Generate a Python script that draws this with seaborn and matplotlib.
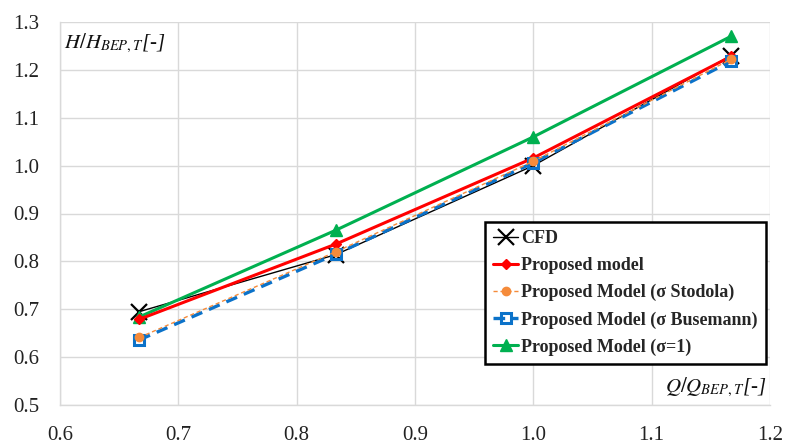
import matplotlib
matplotlib.use("Agg")
import matplotlib.pyplot as plt
import seaborn as sns
import pandas as pd

q = [0.667, 0.833, 1.0, 1.167]
cfd = [0.695, 0.814, 1.000, 1.230]
proposed = [0.679, 0.836, 1.016, 1.228]
stodola = [0.641, 0.820, 1.009, 1.222]
busemann = [0.636, 0.815, 1.006, 1.218]
sigma1 = [0.684, 0.865, 1.060, 1.270]

names = ["CFD", "Proposed model", "Proposed Model (σ Stodola)",
         "Proposed Model (σ Busemann)", "Proposed Model (σ=1)"]
series = [cfd, proposed, stodola, busemann, sigma1]

rows = []
for n, vals in zip(names, series):
    for x, y in zip(q, vals):
        rows.append({"Q": x, "H": y, "series": n})
df = pd.DataFrame(rows)

sns.set_theme(style="whitegrid")
plt.rcParams["font.family"] = ["Liberation Serif", "DejaVu Serif"]
plt.rcParams["mathtext.fontset"] = "stix"

fig = plt.figure(figsize=(7.85, 4.45), dpi=100)
ax = fig.add_axes([60 / 785, 1 - 405 / 445, 710 / 785, 383 / 445])

styles = {
    "CFD": dict(color="black", lw=1.0, ls="-", marker="x", ms=11, mew=1.6, mfc="black", zorder=3),
    "Proposed model": dict(color="#ff0000", lw=2.2, ls="-", marker="D", ms=5, mew=1, mfc="#ff0000", zorder=4),
    "Proposed Model (σ Stodola)": dict(color="#f58b3a", lw=1.0, ls=(0, (3, 2)), marker="o", ms=6, mew=1, mfc="#f58b3a", zorder=6),
    "Proposed Model (σ Busemann)": dict(color="#0b72c9", lw=2.4, ls=(0, (3.5, 2.2)), marker="s", ms=7.5, mew=2.2, mfc="none", zorder=5),
    "Proposed Model (σ=1)": dict(color="#00b050", lw=2.2, ls="-", marker="^", ms=8, mew=1, mfc="#00b050", zorder=3),
}

for n in names:
    st = styles[n]
    sns.lineplot(data=df[df["series"] == n], x="Q", y="H", ax=ax, label=n,
                 color=st["color"], linewidth=st["lw"], linestyle=st["ls"],
                 marker=st["marker"], markersize=st["ms"], markeredgewidth=st["mew"],
                 markerfacecolor=st["mfc"], markeredgecolor=st["color"],
                 zorder=st["zorder"], sort=False)

ax.set_xlim(0.6, 1.2)
ax.set_ylim(0.5, 1.3)
ax.set_xticks([0.6, 0.7, 0.8, 0.9, 1.0, 1.1, 1.2])
ax.set_yticks([0.5, 0.6, 0.7, 0.8, 0.9, 1.0, 1.1, 1.2, 1.3])
ax.set_xticklabels([f"{v:.1f}" for v in ax.get_xticks()])
ax.set_yticklabels([f"{v:.1f}" for v in ax.get_yticks()])
ax.tick_params(axis="both", labelsize=15, colors="#222222", length=0, pad=15)
ax.grid(True, color="#d9d9d9", lw=1.0)
for s in ["top", "right"]:
    ax.spines[s].set_visible(False)
for s in ["left", "bottom"]:
    ax.spines[s].set_color("#d9d9d9")
    ax.spines[s].set_linewidth(1.0)
ax.set_facecolor("white")
ax.set_xlabel("")
ax.set_ylabel("")

ax.text(0.005, 0.975, r"$H/H_{BEP,T}$[-]", transform=ax.transAxes, style="italic",
        fontsize=15, ha="left", va="top", color="#111111")
ax.text(0.995, 0.015, r"$Q/Q_{BEP,T}$[-]", transform=ax.transAxes, style="italic",
        fontsize=15, ha="right", va="bottom", color="#111111")

leg = ax.legend(loc="upper left", bbox_to_anchor=((485 - 60) / 710, (405 - 222) / 383),
                frameon=True, fancybox=False, framealpha=1, edgecolor="black",
                prop={"family": "Liberation Serif", "weight": "bold", "size": 13},
                handlelength=1.4, handletextpad=0.15, labelspacing=0.55,
                borderpad=0.45, borderaxespad=0)
leg.get_frame().set_linewidth(1.8)
leg.set_zorder(10)
fig.canvas.draw()
# widen frame slightly to match reference box width
frame = leg.get_frame()
frame.set_width(frame.get_width() + 6)

fig.savefig("out.png", dpi=100, facecolor="white")
